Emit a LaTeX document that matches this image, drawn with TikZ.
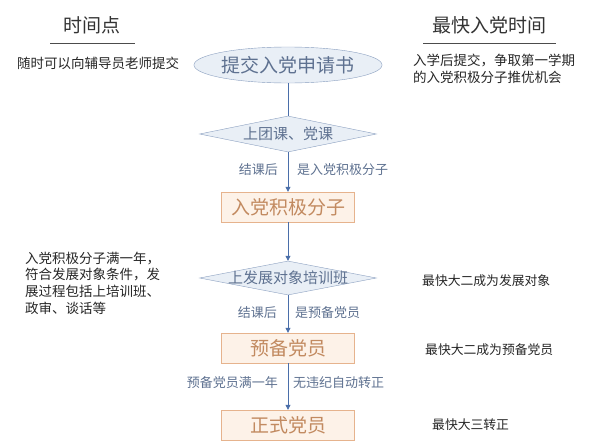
\documentclass[tikz,border=0pt]{standalone}
\usepackage{fontspec}
\setmainfont{Noto Sans CJK SC}
\usetikzlibrary{shapes.geometric,arrows.meta}

\definecolor{lineblue}{HTML}{4A6EA9}
\definecolor{edgeblue}{HTML}{8A9FBF}
\definecolor{fillblue}{HTML}{E9EFF6}
\definecolor{textblue}{HTML}{5E7190}
\definecolor{edgeorange}{HTML}{E6B38D}
\definecolor{fillorange}{HTML}{FDF2E8}
\definecolor{textorange}{HTML}{C28A60}

\begin{document}
\begin{tikzpicture}[x=1pt,y=-1pt,
   start/.style={ellipse,draw=edgeblue,fill=fillblue,minimum width=177pt,minimum height=36pt,inner sep=0pt,text=textblue,font=\fontsize{19}{19}\selectfont},
   course/.style={diamond,draw=edgeblue,fill=fillblue,minimum width=177pt,minimum height=36pt,inner sep=0pt,text=textblue,font=\fontsize{15}{15}\selectfont},
   stage/.style={rectangle,draw=edgeorange,fill=fillorange,minimum width=133pt,minimum height=30pt,inner sep=0pt,text=textorange,font=\fontsize{19}{19}\selectfont},
   lab/.style={inner sep=0pt,text=textblue,font=\fontsize{13}{13}\selectfont},
   note/.style={inner sep=0pt,anchor=west,align=left,text=black!85,font=\fontsize{13.5}{17}\selectfont},
   head/.style={inner sep=0pt,text=black!80,font=\fontsize{19}{19}\selectfont},
   link/.style={draw=lineblue,thick},
   >={Triangle[width=5pt,length=5pt]}]
   \useasboundingbox (0,0) rectangle (598,442);

   % headings
   \node[head] (when) at (92,25) {时间点};
   \node[head] (fast) at (489,25) {最快入党时间};
   \draw[black!70,thick] (50,43) -- (135,43);
   \draw[black!70,thick] (423,43) -- (556,43);

   % flow
   \node[start] (apply) at (288,65) {提交入党申请书};
   \node[course] (d1) at (288,134) {\makebox[0pt]{上团课、党课}};
   \node[stage] (active) at (288,207) {入党积极分子};
   \node[course,minimum height=34pt] (d2) at (288,278) {\makebox[0pt]{上发展对象培训班}};
   \node[stage] (prep) at (288,348) {预备党员};
   \node[stage] (full) at (288,425) {正式党员};

   \draw[link] (apply) -- (d1);
   \draw[link,->] (d1) -- (active);
   \draw[link,->] (active) -- (d2);
   \draw[link,->] (d2) -- (prep);
   \draw[link,->] (prep) -- (full);

   \node[lab,anchor=east] (l1) at (278,170) {结课后};
   \node[lab,anchor=west] (r1) at (297,170) {是入党积极分子};
   \node[lab,anchor=east] (l2) at (277,313) {结课后};
   \node[lab,anchor=west] (r2) at (295,313) {是预备党员};
   \node[lab,anchor=east] (l3) at (278,383) {预备党员满一年};
   \node[lab,anchor=west] (r3) at (293,383) {无违纪自动转正};

   % side notes
   \node[note] (n1) at (17,63) {随时可以向辅导员老师提交};
   \node[note] (n2) at (413,68.5) {入学后提交，争取第一学期\\的入党积极分子推优机会};
   \node[note,font=\fontsize{13.5}{16.6}\selectfont] (n3) at (25,283) {入党积极分子满一年，\\符合发展对象条件，发\\展过程包括上培训班、\\政审、谈话等};
   \node[note,font=\fontsize{12.8}{12.8}\selectfont] (n4) at (422,281) {最快大二成为发展对象};
   \node[note,font=\fontsize{12.8}{12.8}\selectfont] (n5) at (425,350) {最快大二成为预备党员};
   \node[note,font=\fontsize{12.8}{12.8}\selectfont] (n6) at (432,425) {最快大三转正};
\end{tikzpicture}
\end{document}
